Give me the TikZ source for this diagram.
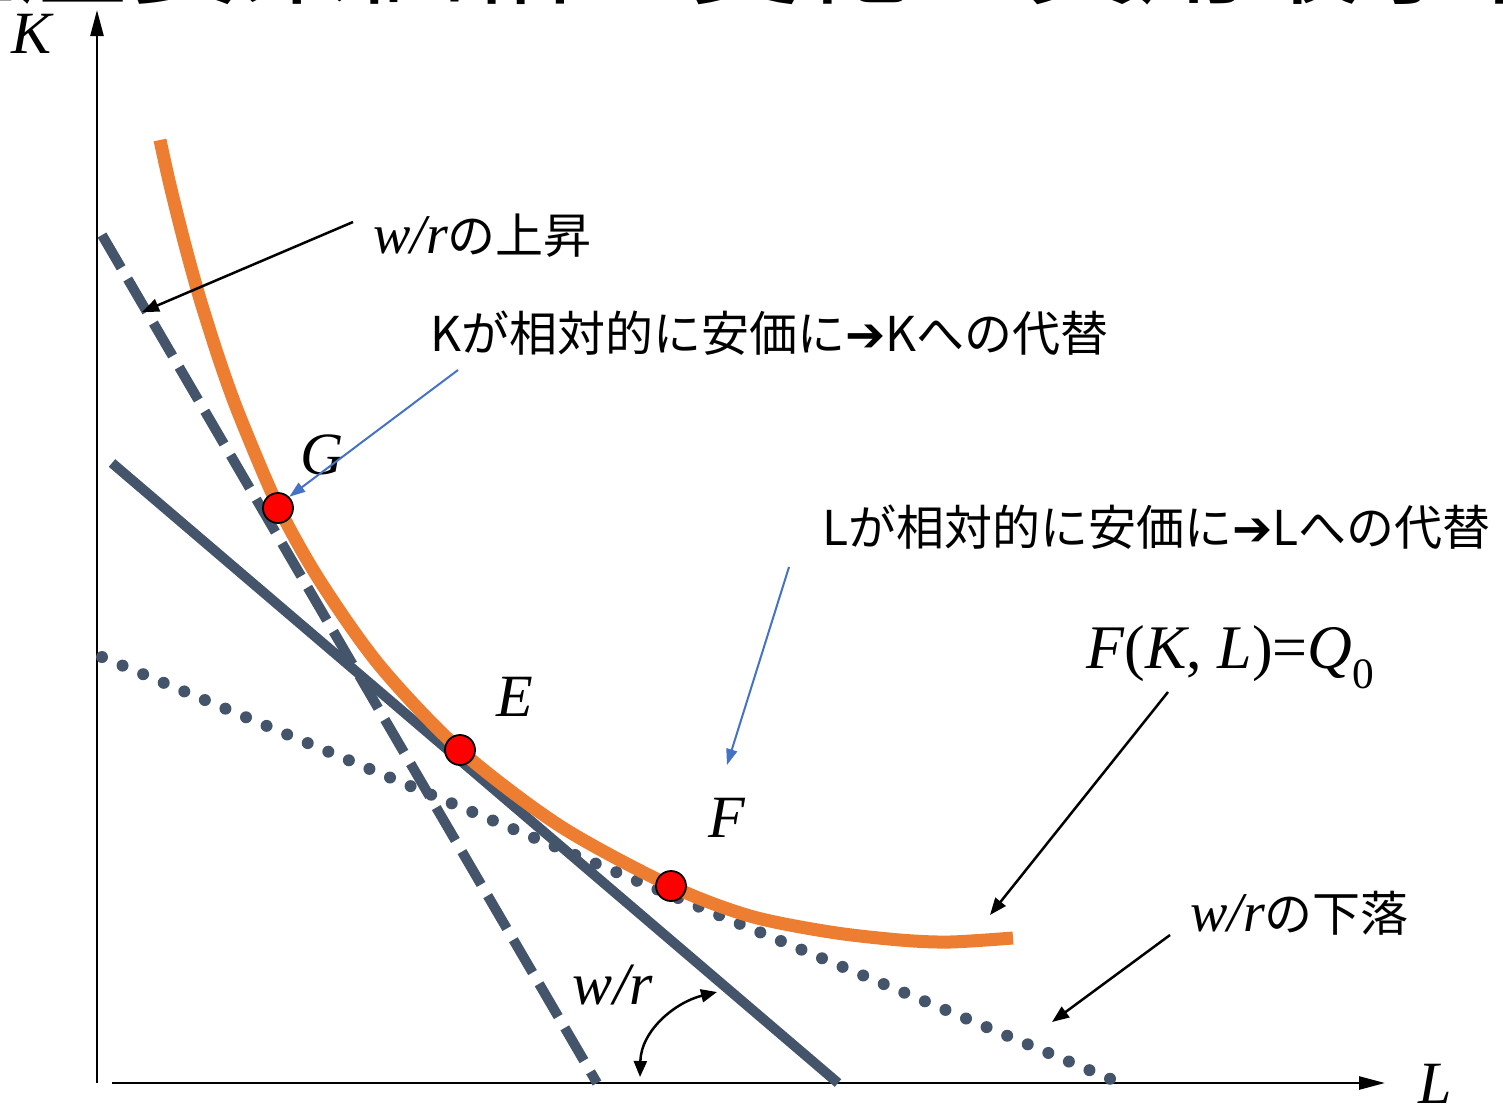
\documentclass[tikz,border=0pt]{standalone}
\usepackage{fontspec}
\setmainfont{Liberation Serif}
\newfontfamily\cjk{Noto Sans CJK JP}
\newfontfamily\djv{DejaVu Sans}
\usetikzlibrary{arrows.meta}
\definecolor{isoc}{HTML}{ED7D31}
\definecolor{slate}{HTML}{44546A}
\definecolor{bluec}{HTML}{4472C4}
\begin{document}
\begin{tikzpicture}[x=1pt,y=-1pt,
  mathlab/.style={font=\fontsize{60}{60}\selectfont\itshape, inner sep=0pt},
  jplab/.style={font=\fontsize{48}{48}\selectfont\cjk, inner sep=0pt, anchor=west},
  axisline/.style={line width=2.5pt, -{Triangle[length=26pt,width=13pt]}},
  blackarrow/.style={line width=2.5pt, -{Triangle[length=17pt,width=13pt]}},
  bluearrow/.style={line width=2pt, bluec, -{Triangle[length=16pt,width=11pt]}},
  pt/.style={circle, fill=red, draw=black, line width=1.8pt, minimum size=30pt, inner sep=0pt},
  budget/.style={slate, line width=10pt},
]
\useasboundingbox (0,0) rectangle (1503,1111);
\clip (0,0) rectangle (1503,1111);

% partially visible title
\node[anchor=base west, inner sep=0pt, font=\fontsize{112}{112}\selectfont\cjk] (title) at (-95,-5) {生産要素価格の変化と費用最小化};

% axes
\coordinate (ybot) at (97,1083);
\coordinate (ytop) at (97,10);
\coordinate (xleft) at (112,1083);
\coordinate (xright) at (1385,1083);
\draw[axisline] (ybot) -- (ytop);
\draw[axisline] (xleft) -- (xright);
\node[mathlab] (Klab) at (32,34) {K};
\node[mathlab] (Llab) at (1435,1084) {L};

% budget lines
\coordinate (d1) at (102,235);
\coordinate (d2) at (597,1083);
\draw[budget, dash pattern=on 38pt off 13pt] (d1) -- (d2);
\coordinate (s1) at (112,463);
\coordinate (s2) at (838,1083);
\draw[budget] (s1) -- (s2);
\coordinate (p1) at (102,657);
\coordinate (p2) at (1113,1080);
\draw[slate, line width=12pt, line cap=round, dash pattern=on 0pt off 22.3pt] (p1) -- (p2);

% isoquant
\draw[isoc, line width=13pt] plot[smooth, tension=0.5] coordinates {(160,140) (170,185) (185,245) (200,299) (220,362) (240,417) (278,506) (320,581) (380,666) (460,750) (560,826) (671,886) (750,916) (830,932) (900,940) (950,942) (1013,938)};

% points
\node[pt] (G) at (278,508) {};
\node[pt] (E) at (460,750) {};
\node[pt] (F) at (671,886) {};
\node[mathlab] (Glab) at (322,455) {G};
\node[mathlab] (Elab) at (515,697) {E};
\node[mathlab] (Flab) at (727,818) {F};

% labels
\node[jplab] (up) at (373,236) {{\fontsize{56}{56}\selectfont\rmfamily\itshape w/r}の上昇};
\node[jplab] (ksub) at (430,333) {Kが相対的に安価に{\djv ➔}Kへの代替};
\node[jplab] (lsub) at (822,527) {Lが相対的に安価に{\djv ➔}Lへの代替};
\node[jplab] (down) at (1190,913) {{\fontsize{56}{56}\selectfont\rmfamily\itshape w/r}の下落};
\node[inner sep=0pt, anchor=west, font=\fontsize{62}{62}\selectfont] (iso) at (1086,657) {\textit{F}(\textit{K}, \textit{L})=\textit{Q}\textsubscript{0}};
\node[mathlab] (wr) at (613,985) {w/r};

% arrows
\coordinate (upA) at (353,222);
\coordinate (upB) at (142,312);
\draw[blackarrow] (upA) -- (upB);
\coordinate (kA) at (458,370);
\draw[bluearrow] (kA) -- (G.north east);
\coordinate (lA) at (789,567);
\coordinate (lB) at (727,765);
\draw[bluearrow] (lA) -- (lB);
\coordinate (isoA) at (1168,692);
\coordinate (isoB) at (990,915);
\draw[blackarrow] (isoA) -- (isoB);
\coordinate (dnA) at (1170,935);
\coordinate (dnB) at (1052,1022);
\draw[blackarrow] (dnA) -- (dnB);
\coordinate (angA) at (640,1077);
\coordinate (angB) at (717,992);
\draw[line width=2.5pt, {Triangle[length=16pt,width=13pt]}-{Triangle[length=16pt,width=13pt]}] (angA) .. controls (641,1030) and (676,1002) .. (angB);
\end{tikzpicture}
\end{document}
